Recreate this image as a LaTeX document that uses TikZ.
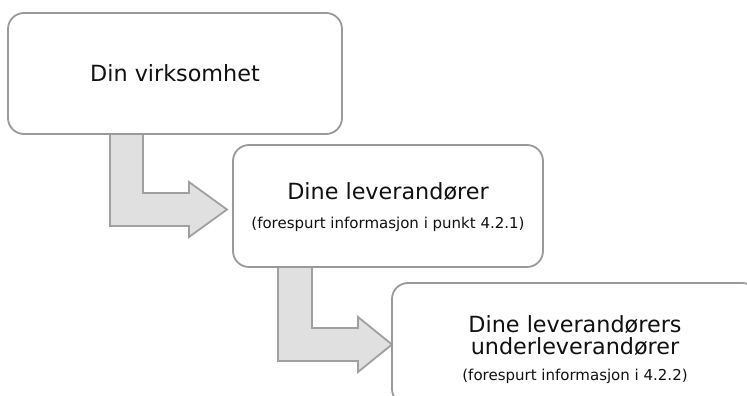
\documentclass[tikz,border=0pt]{standalone}
\usepackage{fontspec}
\setmainfont{DejaVu Sans}
\definecolor{boxgray}{HTML}{9A9A9A}
\definecolor{arrowgray}{HTML}{A0A0A0}
\definecolor{arrowfill}{HTML}{E0E0E0}
\definecolor{txt}{HTML}{111111}
\begin{document}
\begin{tikzpicture}[x=1pt,y=-1pt,
  box/.style={draw=boxgray, line width=1.8pt, rounded corners=16pt, fill=white, align=center, inner sep=0pt},
  barrow/.style={draw=arrowgray, fill=arrowfill, line width=1.8pt, line join=miter},
  ttl/.style={text=txt, inner sep=0pt, font=\fontsize{22.3}{22}\selectfont},
  sub/.style={text=txt, inner sep=0pt, font=\fontsize{15}{16}\selectfont}]
\useasboundingbox (0,0) rectangle (747,396);
\clip (0,0) rectangle (747,396);
% block arrows
\draw[barrow] (110,134) -- (143,134) -- (143,193) -- (189,193) -- (189,182) -- (227,209.5) -- (189,237) -- (189,226) -- (110,226) -- cycle;
\draw[barrow] (278,267) -- (312,267) -- (312,328) -- (358,328) -- (358,317) -- (392,344.5) -- (358,372) -- (358,361) -- (278,361) -- cycle;
% boxes
\node[box, minimum width=334pt, minimum height=121pt] (b1) at (175,73.5) {};
\node[ttl] (t1) at (b1.center) {Din virksomhet};
\node[box, minimum width=310pt, minimum height=122pt] (b2) at (388,206) {};
\node[ttl] (t2) at (388,192) {Dine leverandører};
\node[sub] (s2) at (388,224) {(forespurt informasjon i punkt 4.2.1)};
\node[box, minimum width=366pt, minimum height=122pt] (b3) at (575,344) {};
\node[ttl, align=center] (t3) at (575,336) {Dine leverandørers\\underleverandører};
\node[sub] (s3) at (575,376) {(forespurt informasjon i 4.2.2)};
\end{tikzpicture}
\end{document}
